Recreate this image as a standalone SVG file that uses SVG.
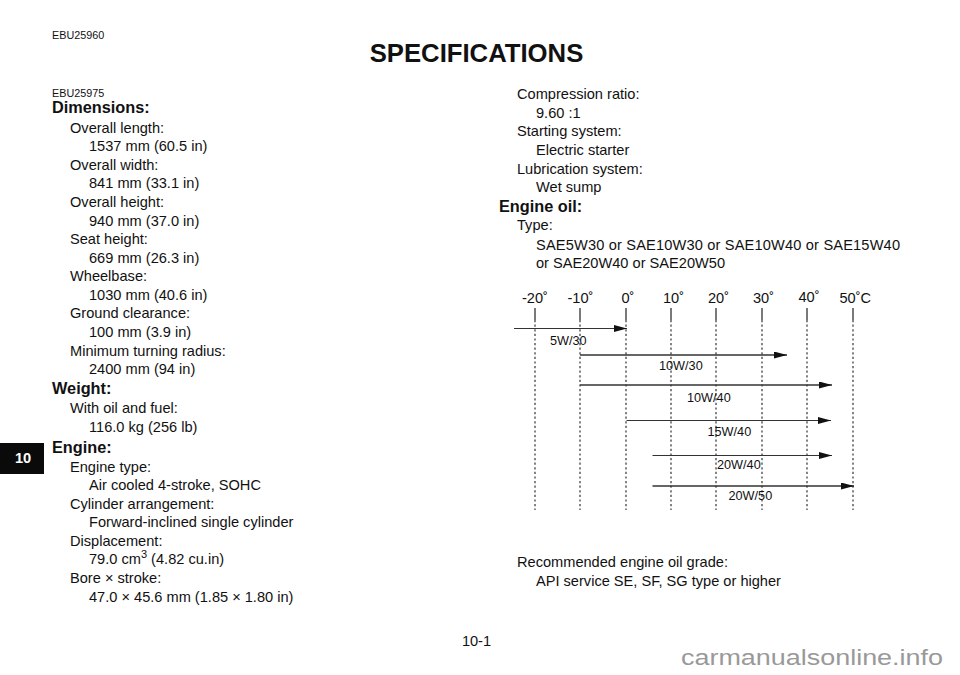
<svg xmlns="http://www.w3.org/2000/svg" width="960" height="675" viewBox="0 0 960 675">
<style>
text{font-family:"Liberation Sans",Arial,sans-serif;fill:#111}
.t{font-size:14.6px}
.h{font-size:16.3px;font-weight:bold}
.s{font-size:10.8px}
.d{font-size:12.7px}
.c{font-size:14.6px}
.v{stroke:#222;stroke-width:1.1;stroke-dasharray:2.2 2.4;fill:none}
.k{stroke:#222;stroke-width:1.2;fill:none}
.a{stroke:#333;stroke-width:1.2;fill:none;marker-end:url(#ah)}
</style>
<defs><marker id="ah" viewBox="0 0 13 7" refX="13" refY="3.5" markerWidth="13" markerHeight="7" markerUnits="userSpaceOnUse" orient="auto"><path d="M0 0L13 3.5L0 7Z" fill="#111"/></marker></defs>
<rect width="960" height="675" fill="#fff"/>
<g id="header">
<text class="s" x="52" y="39">EBU25960</text>
<text x="476.5" y="62" text-anchor="middle" font-size="25.7" font-weight="bold">SPECIFICATIONS</text>
</g>
<g id="tab"><rect x="0" y="443" width="44" height="31" fill="#0a0a0a"/><text x="23" y="463" text-anchor="middle" font-size="14.6" font-weight="bold" style="fill:#fff">10</text></g>
<g id="left-column">
<text class="s" x="52" y="97">EBU25975</text>
<text class="h" x="52" y="113">Dimensions:</text>
<text class="t" x="70" y="133">Overall length:</text>
<text class="t" x="89" y="151">1537 mm (60.5 in)</text>
<text class="t" x="70" y="170">Overall width:</text>
<text class="t" x="89" y="188">841 mm (33.1 in)</text>
<text class="t" x="70" y="207">Overall height:</text>
<text class="t" x="89" y="225.5">940 mm (37.0 in)</text>
<text class="t" x="70" y="244">Seat height:</text>
<text class="t" x="89" y="263">669 mm (26.3 in)</text>
<text class="t" x="70" y="281">Wheelbase:</text>
<text class="t" x="89" y="300">1030 mm (40.6 in)</text>
<text class="t" x="70" y="318">Ground clearance:</text>
<text class="t" x="89" y="337">100 mm (3.9 in)</text>
<text class="t" x="70" y="356">Minimum turning radius:</text>
<text class="t" x="89" y="374">2400 mm (94 in)</text>
<text class="h" x="52" y="394">Weight:</text>
<text class="t" x="70" y="413">With oil and fuel:</text>
<text class="t" x="89" y="432">116.0 kg (256 lb)</text>
<text class="h" x="52" y="453">Engine:</text>
<text class="t" x="70" y="472">Engine type:</text>
<text class="t" x="89" y="490">Air cooled 4-stroke, SOHC</text>
<text class="t" x="70" y="508.500">Cylinder arrangement:</text>
<text class="t" x="89" y="527">Forward-inclined single cylinder</text>
<text class="t" x="70" y="546">Displacement:</text>
<text class="t" x="89" y="564">79.0 cm<tspan font-size="11" dy="-6">3</tspan><tspan dy="6"> (4.82 cu.in)</tspan></text>
<text class="t" x="70" y="583">Bore × stroke:</text>
<text class="t" x="89" y="602">47.0 × 45.6 mm (1.85 × 1.80 in)</text>
</g>
<g id="right-column">
<text class="t" x="517" y="99">Compression ratio:</text>
<text class="t" x="536" y="118">9.60 :1</text>
<text class="t" x="517" y="136">Starting system:</text>
<text class="t" x="536" y="155">Electric starter</text>
<text class="t" x="517" y="174">Lubrication system:</text>
<text class="t" x="536" y="192">Wet sump</text>
<text class="h" x="499" y="212">Engine oil:</text>
<text class="t" x="517" y="230">Type:</text>
<text class="t" x="536" y="250" textLength="364">SAE5W30 or SAE10W30 or SAE10W40 or SAE15W40</text>
<text class="t" x="536" y="268">or SAE20W40 or SAE20W50</text>
<text class="t" x="517" y="567">Recommended engine oil grade:</text>
<text class="t" x="536" y="586">API service SE, SF, SG type or higher</text>
</g>
<g id="scale">
<text class="c" x="522" y="303">-20˚</text>
<text class="c" x="567.500" y="303">-10˚</text>
<text class="c" x="621.500" y="303">0˚</text>
<text class="c" x="663" y="303">10˚</text>
<text class="c" x="708" y="303">20˚</text>
<text class="c" x="753" y="303">30˚</text>
<text class="c" x="798.500" y="302">40˚</text>
<text class="c" x="839.500" y="303">50˚C</text>
</g>
<g id="connectors">
<path class="k" d="M535 308V320M580 308V320M626 308V320M671 308V320M716 308V320M762 308V320M807 308V320M853 308V320"/>
<path class="v" d="M535 320V510M580 320V510M626 320V510M671 320V510M716 320V510M762 320V510M807 320V510M853 320V510"/>
<path class="a" d="M514 328.500H627"/>
<path class="a" style="stroke-width:1.7" d="M580 355H787"/>
<path class="a" style="stroke-width:1.5" d="M580 385H832"/>
<path class="a" d="M626.500 420.500H831"/>
<path class="a" d="M652.500 455.500H832"/>
<path class="a" style="stroke-width:1.6" d="M652.500 486H854"/>
</g>
<g id="grades">
<text class="d" x="550" y="345">5W/30</text>
<text class="d" x="659" y="370">10W/30</text>
<text class="d" x="687" y="402">10W/40</text>
<text class="d" x="707.500" y="436">15W/40</text>
<text class="d" x="717" y="469">20W/40</text>
<text class="d" x="728.500" y="500">20W/50</text>
</g>
<g id="footer">
<text x="476.500" y="646" text-anchor="middle" font-size="14.6">10-1</text>
<text x="681" y="665" font-size="22.500" textLength="262" lengthAdjust="spacingAndGlyphs" style="fill:#999">carmanualsonline.info</text>
</g>
</svg>
